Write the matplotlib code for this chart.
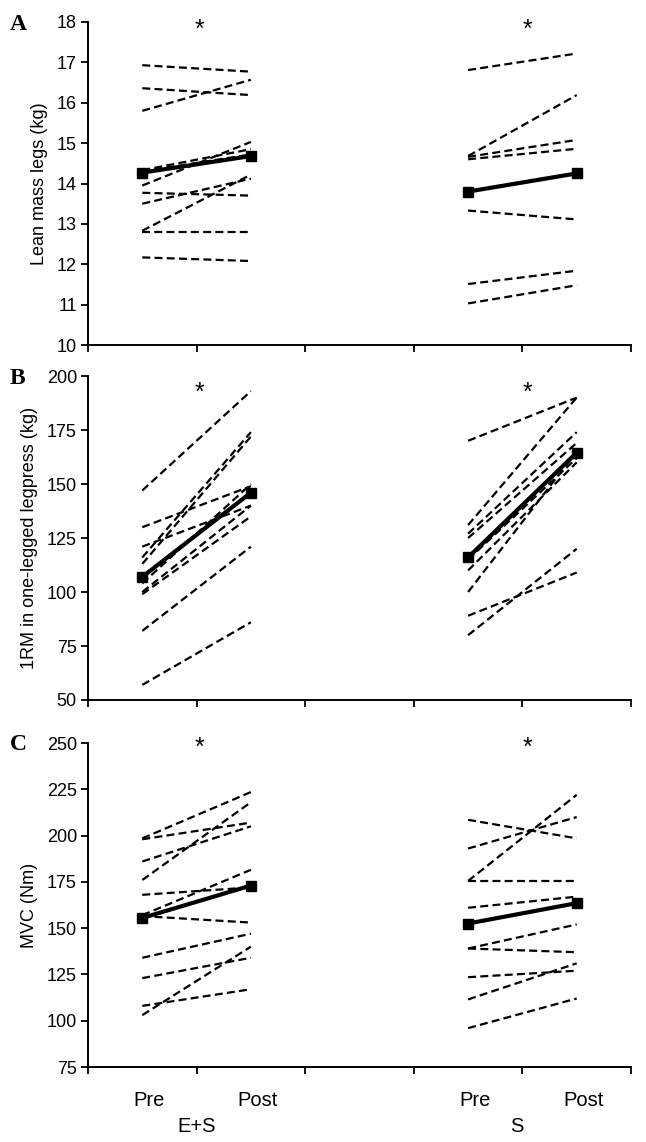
import matplotlib
matplotlib.use("Agg")
import matplotlib.pyplot as plt
import matplotlib.transforms as mtransforms

plt.rcParams['font.family'] = ['Liberation Sans', 'DejaVu Sans']

# ---- categories ----
categories = ['Pre', 'Post', '', 'Pre', 'Post']
groups = ['E+S', 'S']

# ---- Panel A: lean mass legs (kg) ----
a_es_pre = [16.93, 16.36, 15.80, 14.33, 14.30, 13.95, 13.77, 13.50, 12.83, 12.80, 12.17]
a_es_post = [16.77, 16.19, 16.57, 14.85, 14.72, 15.03, 13.70, 14.12, 14.22, 12.80, 12.08]
a_s_pre = [16.81, 14.68, 14.66, 14.60, 13.33, 11.51, 11.03]
a_s_post = [17.22, 16.19, 15.08, 14.86, 13.11, 11.84, 11.48]
a_mean_es = [14.27, 14.68]
a_mean_s = [13.80, 14.25]

# ---- Panel B: 1RM one-legged legpress (kg) ----
b_es_pre = [147, 130, 121, 116, 113, 104, 100, 99, 82, 57]
b_es_post = [193, 149, 140, 174, 172, 150, 140, 135, 121, 86]
b_s_pre = [170, 131, 127, 125, 115, 110, 100, 89, 80]
b_s_post = [190, 190, 174, 169, 162, 160, 165, 109, 120]
b_mean_es = [107, 146]
b_mean_s = [116, 164.5]

# ---- Panel C: MVC (Nm) ----
c_es_pre = [198.5, 198, 186, 176, 168, 157, 156.5, 134, 123, 108, 103]
c_es_post = [223.5, 207, 205, 218, 172, 181.5, 153, 147, 134, 117, 140]
c_s_pre = [208.5, 193, 175.5, 175.5, 161, 139, 139, 123.5, 111.5, 96]
c_s_post = [198.5, 210, 222, 175.5, 167, 152, 137, 127, 131, 112]
c_mean_es = [155.5, 173]
c_mean_s = [152.5, 163.5]

panels = [
    dict(letter='A', ylabel='Lean mass legs (kg)', ylim=(10, 18), step=1,
         es=(a_es_pre, a_es_post), s=(a_s_pre, a_s_post), mes=a_mean_es, ms=a_mean_s,
         star_y=0.975, rect=(88, 22, 345)),
    dict(letter='B', ylabel='1RM in one-legged legpress (kg)', ylim=(50, 200), step=25,
         es=(b_es_pre, b_es_post), s=(b_s_pre, b_s_post), mes=b_mean_es, ms=b_mean_s,
         star_y=0.948, rect=(88, 376, 700)),
    dict(letter='C', ylabel='MVC (Nm)', ylim=(75, 250), step=25,
         es=(c_es_pre, c_es_post), s=(c_s_pre, c_s_post), mes=c_mean_es, ms=c_mean_s,
         star_y=0.985, rect=(88, 743, 1067)),
]

W, H = 646, 1142
fig = plt.figure(figsize=(W / 100, H / 100), dpi=100)

xpos = list(range(len(categories)))
es_x = [xpos[0], xpos[1]]
s_x = [xpos[3], xpos[4]]
dash = (0, (3.6, 1.9))

for i, p in enumerate(panels):
    left, top, bottom = p['rect']
    right = 631
    ax = fig.add_axes([left / W, 1 - bottom / H, (right - left) / W, (bottom - top) / H])
    for pre, post in zip(*p['es']):
        ax.plot(es_x, [pre, post], color='black', ls=dash, lw=1.6)
    for pre, post in zip(*p['s']):
        ax.plot(s_x, [pre, post], color='black', ls=dash, lw=1.6)
    ax.plot(es_x, p['mes'], color='black', lw=3.0, marker='s', ms=7, zorder=5)
    ax.plot(s_x, p['ms'], color='black', lw=3.0, marker='s', ms=7, zorder=5)

    ax.set_xlim(-0.5, len(categories) - 0.5)
    ax.set_ylim(*p['ylim'])
    lo, hi = p['ylim']
    ticks = list(range(lo, hi + 1, p['step']))
    ax.set_yticks(ticks)
    ax.set_yticklabels([str(t) for t in ticks], fontsize=13)
    ax.set_xticks([x - 0.5 for x in xpos] + [len(categories) - 0.5])
    ax.set_xticklabels([])
    ax.tick_params(axis='both', direction='out', length=5, width=1.3, color='black')
    ax.tick_params(axis='y', pad=3)
    for s in ['top', 'right']:
        ax.spines[s].set_visible(False)
    for s in ['left', 'bottom']:
        ax.spines[s].set_linewidth(1.4)
    ax.set_ylabel(p['ylabel'], fontsize=13, labelpad=6)

    trans = mtransforms.blended_transform_factory(ax.transData, ax.transAxes)
    ax.text(0.53, p['star_y'], '*', transform=trans, ha='center', va='center', fontsize=18)
    ax.text(3.55, p['star_y'], '*', transform=trans, ha='center', va='center', fontsize=18)

    fig.text(10 / W, 1 - (top + 2) / H, p['letter'], fontsize=17, fontweight='bold',
             family='Liberation Serif', ha='left', va='center')

    if i == 2:
        tr2 = mtransforms.blended_transform_factory(ax.transData, fig.transFigure)
        for x, c in zip(xpos, categories):
            if c:
                ax.text(x + 0.06, 1 - 1100 / H, c, transform=tr2, ha='center', va='center', fontsize=14.5)
        ax.text(0.5, 1 - 1127 / H, groups[0], transform=tr2, ha='center', va='center', fontsize=14.5)
        ax.text(3.45, 1 - 1127 / H, groups[1], transform=tr2, ha='center', va='center', fontsize=14.5)

fig.savefig('out.png', dpi=100, facecolor='white')
